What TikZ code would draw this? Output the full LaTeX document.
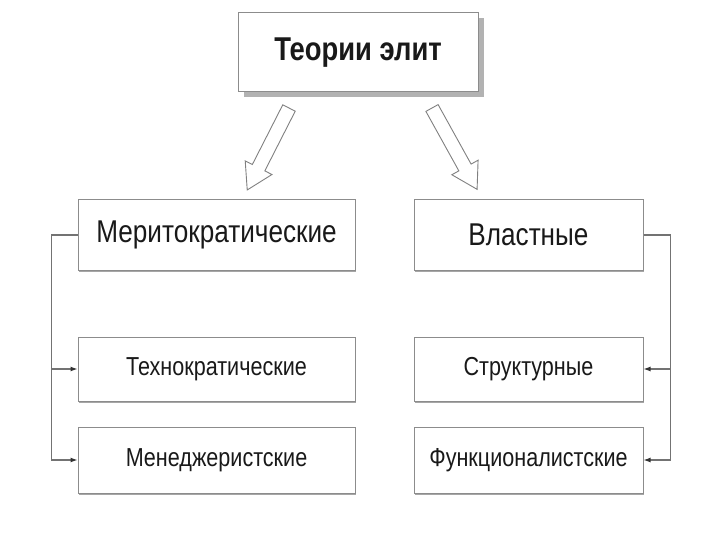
\documentclass[tikz,border=0pt]{standalone}
\usepackage{fontspec}
\setmainfont{Liberation Sans}[FakeStretch=0.83]
\usepackage{tikz}
\usetikzlibrary{shadows,arrows.meta}

\tikzset{
  box/.style={draw=black!45,fill=white,line width=1pt,inner sep=0pt,text=black!90},
  bigbox/.style={box,drop shadow={shadow xshift=6pt,shadow yshift=-5pt,fill=black!30,opacity=1}},
  smallbox/.style={box,drop shadow={shadow xshift=1pt,shadow yshift=-1.5pt,fill=black!35,opacity=1}},
  link/.style={draw=black!55,line width=1.2pt,-{Latex[length=7pt,width=5pt,black!80]}},
  blockarrow/.style={draw=black!50,fill=white,line width=0.9pt,line join=miter},
}
\newcommand{\bigtext}{\fontsize{31.5}{38}\selectfont}
\newcommand{\subtext}{\fontsize{26}{31}\selectfont}

\begin{document}
\begin{tikzpicture}[x=1pt,y=1pt]
  \useasboundingbox (0,0) rectangle (720,-540);
  % top
  \node[bigbox,minimum width=240pt,minimum height=79pt,font=\fontsize{33}{40}\selectfont\bfseries]
    (theory) at (358,-52.5) {Теории элит};
  % classes
  \node[smallbox,minimum width=277pt,minimum height=70pt,font=\bigtext] (merit) at (216.5,-235) {Меритократические};
  \node[smallbox,minimum width=229pt,minimum height=70pt,font=\bigtext] (power) at (528.5,-235) {Властные};
  % subtypes
  \node[smallbox,minimum width=277pt,minimum height=64pt,font=\subtext] (techno) at (216.5,-369) {Технократические};
  \node[smallbox,minimum width=277pt,minimum height=66pt,font=\subtext] (manager) at (216.5,-460) {Менеджеристские};
  \node[smallbox,minimum width=229pt,minimum height=64pt,font=\subtext] (struct) at (528.5,-369) {Структурные};
  \node[smallbox,minimum width=229pt,minimum height=66pt,font=\subtext] (funct) at (528.5,-460) {Функционалистские};
  % block arrows
  \draw[blockarrow,shift={(289,-108)},rotate=243]
    (0,7) -- (67,7) -- (67,15) -- (92,0) -- (67,-15) -- (67,-7) -- (0,-7) -- cycle;
  \draw[blockarrow,shift={(432,-108)},rotate=-61]
    (0,7) -- (68,7) -- (68,15) -- (93,0) -- (68,-15) -- (68,-7) -- (0,-7) -- cycle;
  % left tree
  \draw[link] (merit.west) -- ++(-26,0) coordinate (lbus) |- (techno.west);
  \draw[link] (lbus) |- (manager.west);
  % right tree
  \draw[link] (power.east) -- ++(27,0) coordinate (rbus) |- (struct.east);
  \draw[link] (rbus) |- (funct.east);
\end{tikzpicture}
\end{document}
